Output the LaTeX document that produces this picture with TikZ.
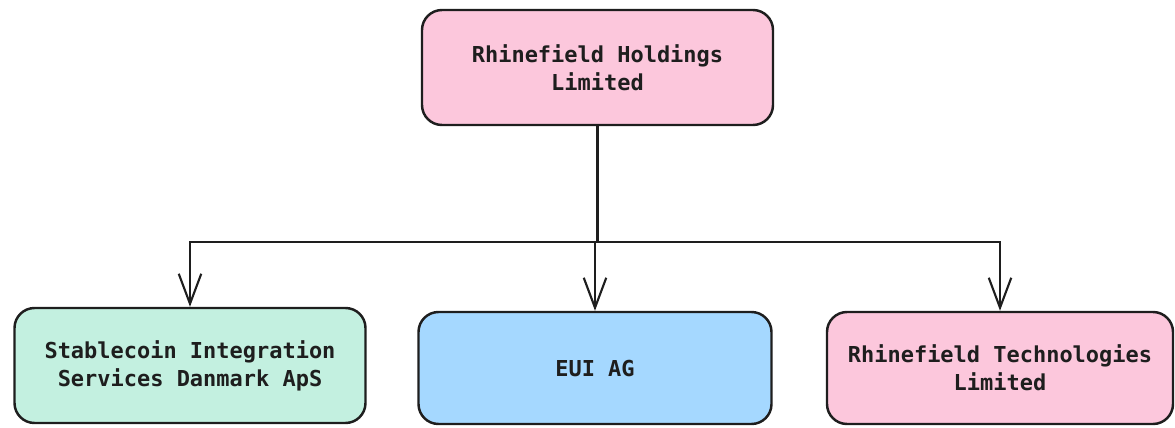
\documentclass[tikz,border=0pt]{standalone}
\usepackage{fontspec}
\setmonofont{DejaVu Sans Mono}
\usepackage{xcolor}
\usepackage{tikz}
\usetikzlibrary{arrows.meta,positioning}
\definecolor{boxpink}{HTML}{FCC7DC}
\definecolor{boxgreen}{HTML}{C3F0E0}
\definecolor{boxblue}{HTML}{A5D8FF}
\definecolor{inkdark}{HTML}{1E1E1E}

\begin{document}
\begin{tikzpicture}[>={Straight Barb[length=0.6cm,width=0.45cm]},
  font=\ttfamily\bfseries\fontsize{12.5}{16}\selectfont,
  entity/.style={draw=inkdark, line width=1.4pt, rounded corners=0.4cm,
    align=center, text=inkdark, inner sep=0pt},
  link/.style={draw=inkdark, line width=1.2pt}]

\useasboundingbox (0,0) rectangle (23.5,-8.54);

% ---- Parent company ----
\node[entity, fill=boxpink, minimum width=7.02cm, minimum height=2.3cm]
  (parent) at (11.95,-1.35) {Rhinefield Holdings\\Limited};

% ---- Subsidiaries ----
\node[entity, fill=boxgreen, minimum width=7.02cm, minimum height=2.3cm]
  (sisd) at (3.8,-7.31) {Stablecoin Integration\\Services Danmark ApS};
\node[entity, fill=boxblue, minimum width=7.06cm, minimum height=2.24cm]
  (euiag) at (11.9,-7.36) {EUI AG};
\node[entity, fill=boxpink, minimum width=6.92cm, minimum height=2.24cm]
  (rtl) at (20.0,-7.36) {Rhinefield Technologies\\Limited};

% ---- Ownership lines ----
\coordinate (bus) at (11.95,-4.84);
\draw[link] (parent.south) -- (bus);
\draw[link, ->] (bus) -| (sisd.north);
\draw[link, ->] (bus) -| (euiag.north);
\draw[link, ->] (bus) -| (rtl.north);

\end{tikzpicture}
\end{document}
